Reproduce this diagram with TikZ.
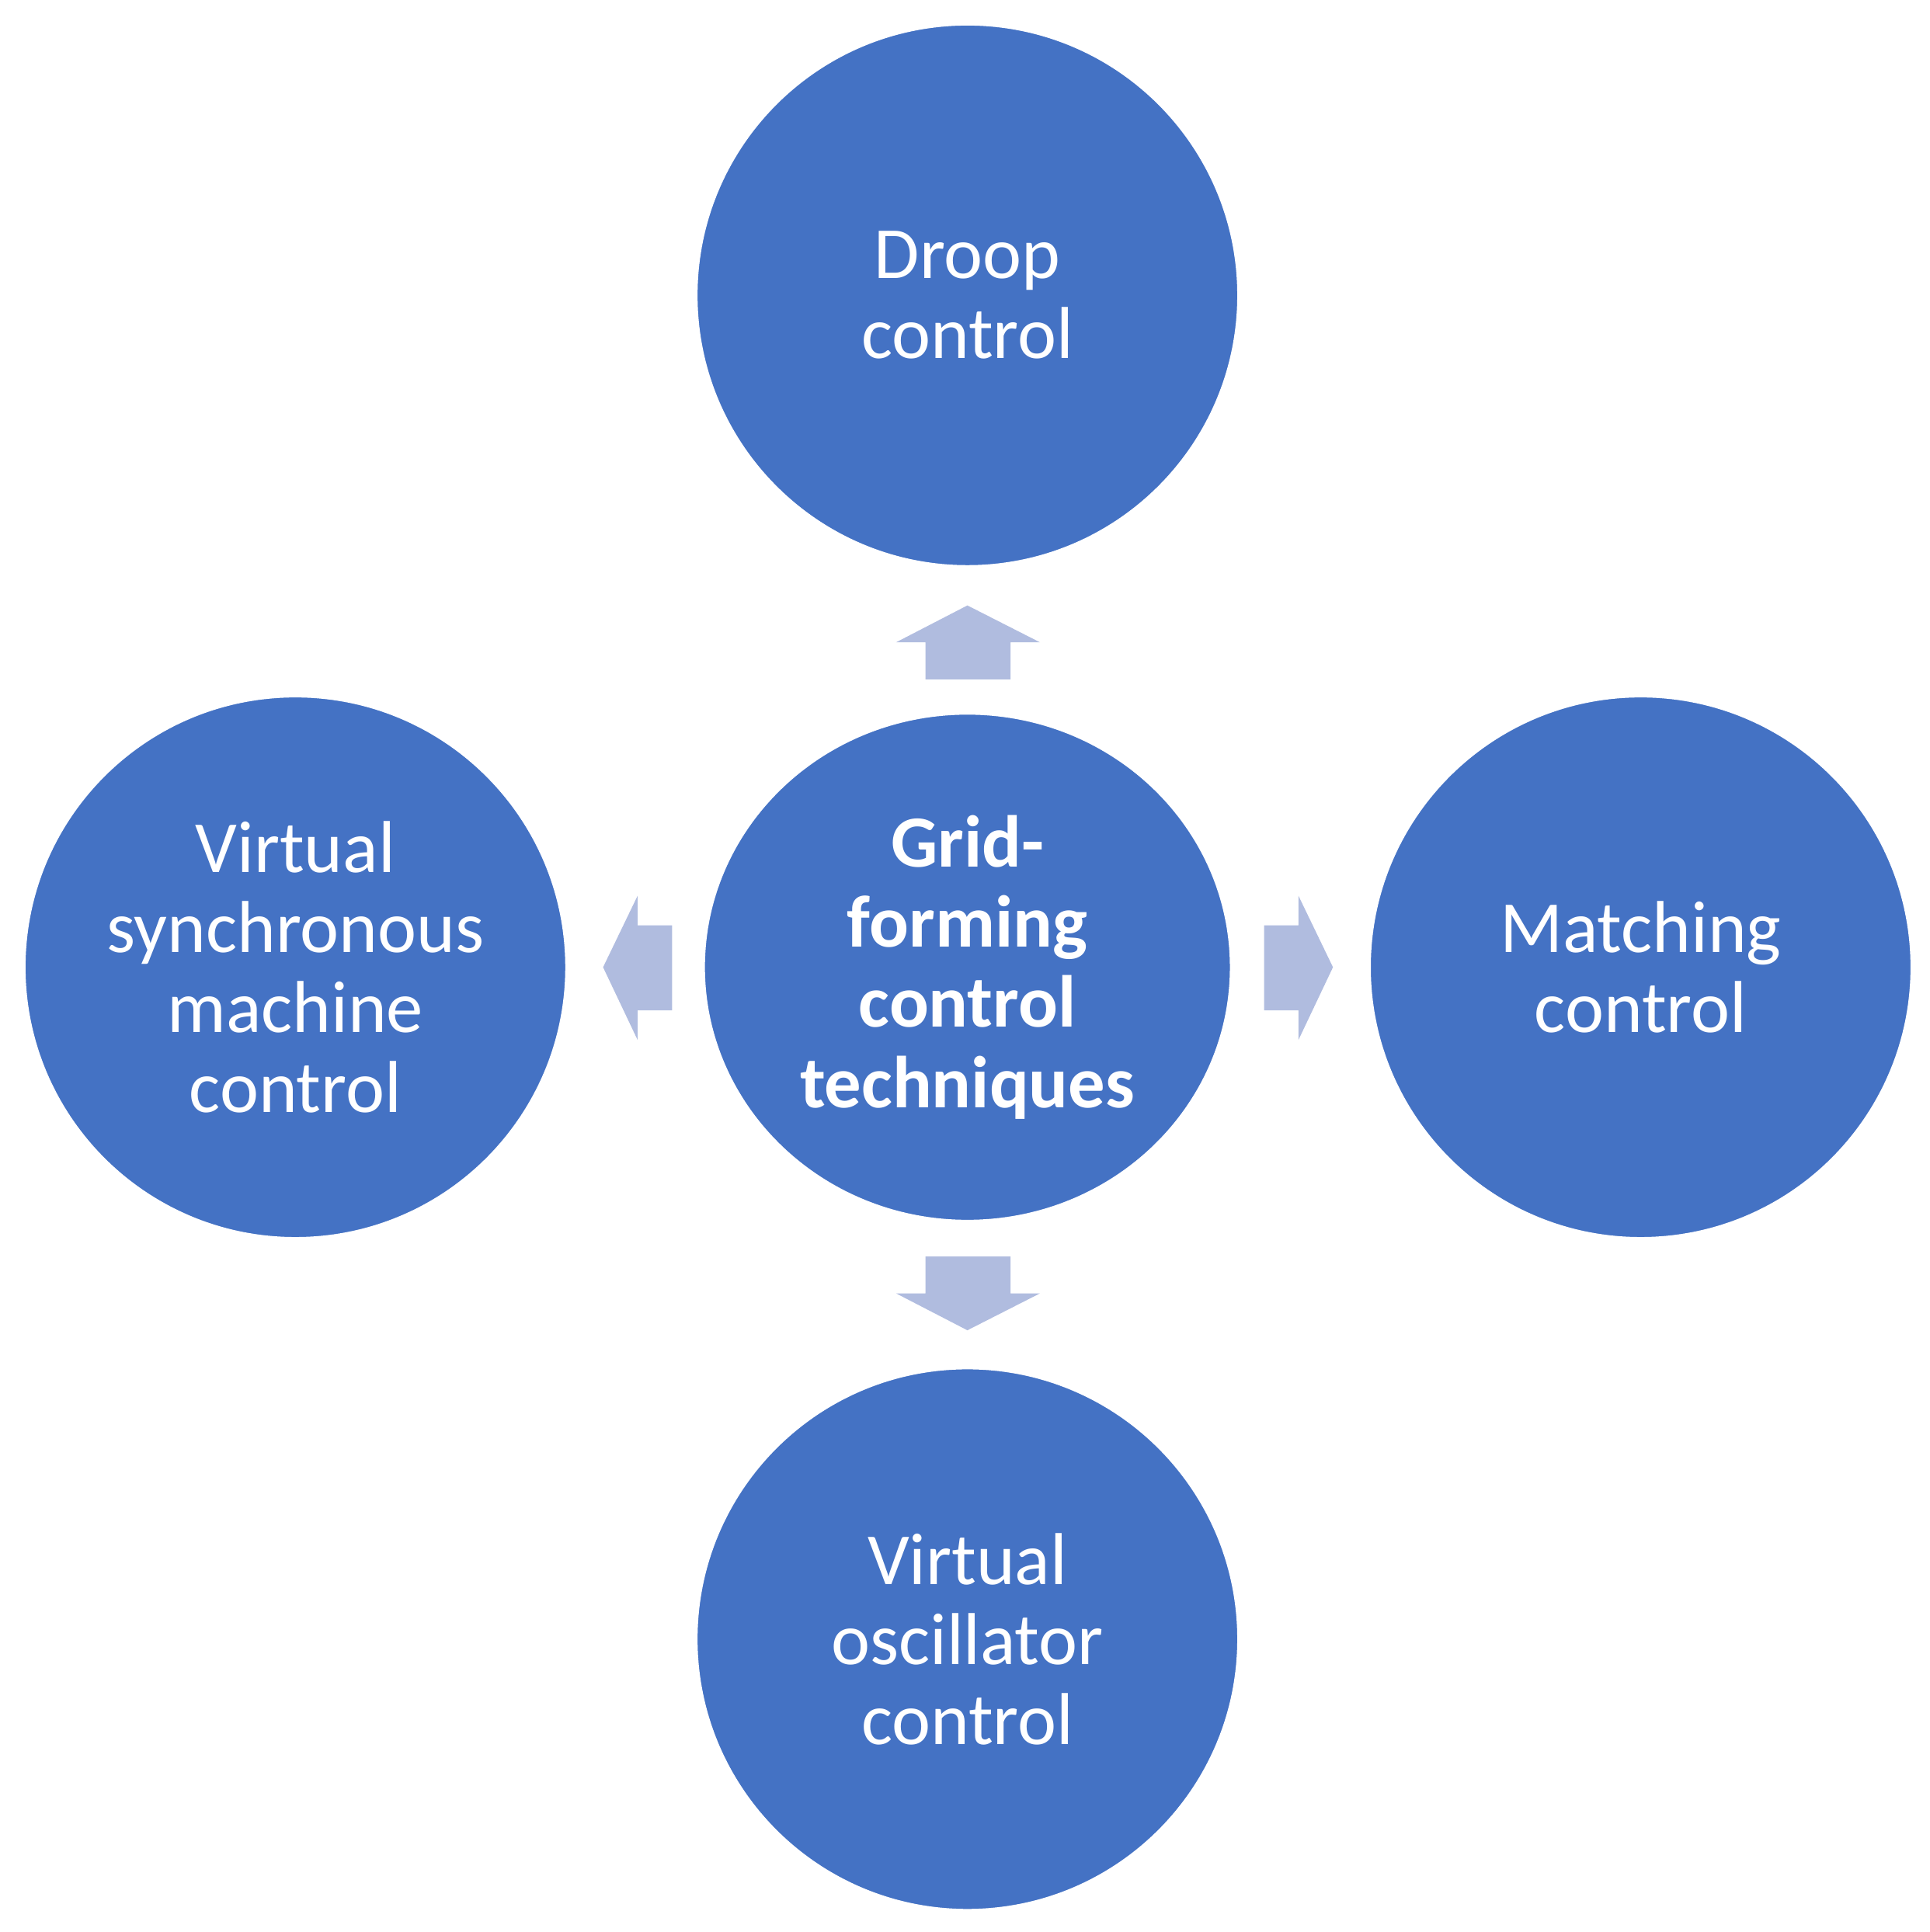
\documentclass[tikz,border=0pt]{standalone}
\usepackage{fontspec}
\setmainfont{Carlito}
\definecolor{cblue}{HTML}{4472C4}
\definecolor{carr}{HTML}{B0BCDF}
\begin{document}
\begin{tikzpicture}[x=0.01cm,y=-0.01cm,
  circ/.style={ellipse,fill=cblue,draw=white,line width=1pt},
  lbl/.style={text=white,align=center,font=\fontsize{17pt}{18.5pt}\selectfont},
  arr/.style={fill=carr,draw=none}]
\useasboundingbox (0,0) rectangle (1568,1570);
\usetikzlibrary{shapes.geometric}
\fill[cblue,draw=white,line width=1pt] (786,240) circle[radius=221];
\fill[cblue,draw=white,line width=1pt] (786,786) ellipse[x radius=215,y radius=207];
\fill[cblue,draw=white,line width=1pt] (240,786) circle[radius=221];
\fill[cblue,draw=white,line width=1pt] (1333,786) circle[radius=221];
\fill[cblue,draw=white,line width=1pt] (786,1332) circle[radius=221];
\node[lbl] (top) at (786,240) {Droop\\control};
\node[lbl,font=\fontsize{17pt}{18.5pt}\selectfont\bfseries] (c) at (786,786) {Grid-\\forming\\control\\techniques};
\node[lbl] (l) at (240,786) {Virtual\\synchronous\\machine\\control};
\node[lbl] (r) at (1333,786) {Matching\\control};
\node[lbl] (b) at (786,1332) {Virtual\\oscillator\\control};
\fill[arr] (786,492) -- (845,522) -- (821,522) -- (821,552) -- (752,552) -- (752,522) -- (728,522) -- cycle;
\fill[arr] (786,1081) -- (845,1051) -- (821,1051) -- (821,1021) -- (752,1021) -- (752,1051) -- (728,1051) -- cycle;
\fill[arr] (490,786) -- (518,728) -- (518,752) -- (546,752) -- (546,821) -- (518,821) -- (518,845) -- cycle;
\fill[arr] (1083,786) -- (1055,728) -- (1055,752) -- (1027,752) -- (1027,821) -- (1055,821) -- (1055,845) -- cycle;
\end{tikzpicture}
\end{document}
